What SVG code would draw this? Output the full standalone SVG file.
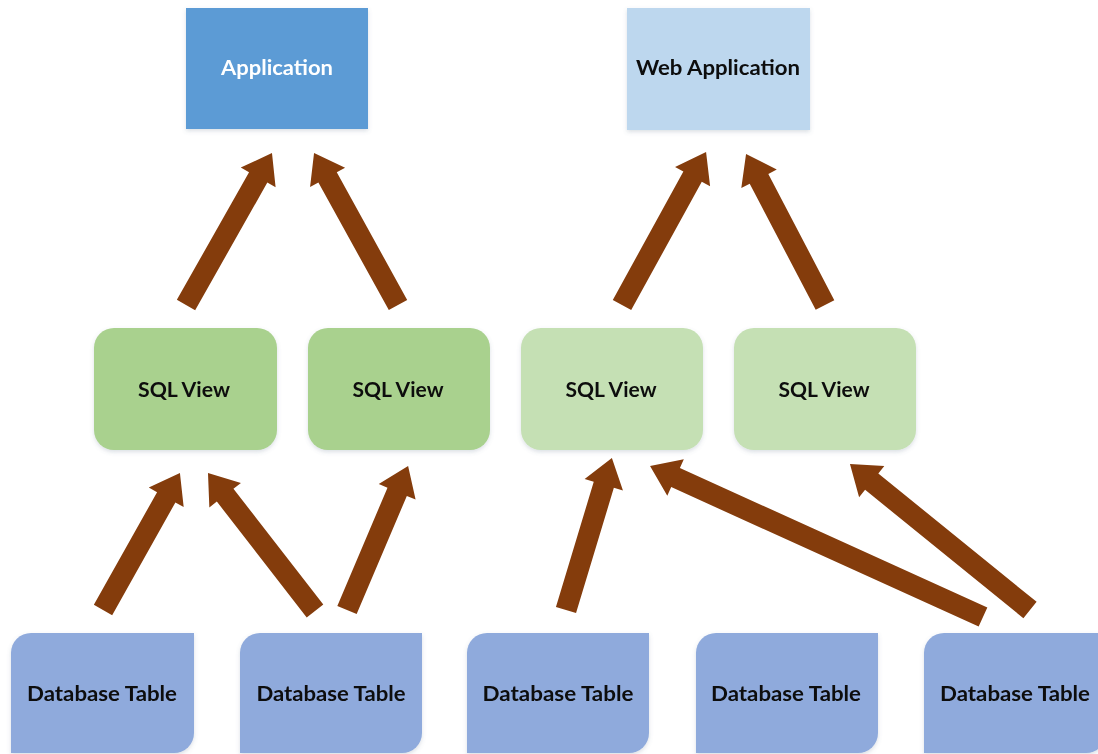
<svg xmlns="http://www.w3.org/2000/svg" width="1098" height="754" viewBox="0 0 1098 754">
  <style>
    .lbl { font-family: "Lato", "Open Sans", "Liberation Sans", sans-serif; font-weight: bold; font-size: 21px; text-anchor: middle; fill: #0d0d0d; }
    .lbl.light { fill: #ffffff; }
    .app { fill: #5b9bd5; }
    .webapp { fill: #bdd7ee; }
    .view-a { fill: #a9d18e; }
    .view-b { fill: #c5e0b4; }
    .table { fill: #8faadc; }
    .arrow { fill: #843c0c; }
    .node { filter: url(#shadow); }
  </style>
  <defs>
    <filter id="shadow" x="-10%" y="-10%" width="120%" height="130%">
      <feDropShadow dx="0" dy="2" stdDeviation="2" flood-color="#5a6f8a" flood-opacity="0.22"/>
    </filter>
  </defs>
  <rect width="1098" height="754" fill="#ffffff"/>

  <!-- top level consumers -->
  <g id="application" class="node">
    <rect class="app" x="186" y="8" width="182" height="121"/>
    <text class="lbl light" x="277" y="75" textLength="112" lengthAdjust="spacingAndGlyphs">Application</text>
  </g>
  <g id="web-application" class="node">
    <rect class="webapp" x="627" y="8" width="183" height="122"/>
    <text class="lbl" x="718" y="75" textLength="164" lengthAdjust="spacingAndGlyphs">Web Application</text>
  </g>

  <!-- views -->
  <g id="view-1" class="node">
    <rect class="view-a" x="94" y="328" width="183" height="122" rx="20"/>
    <text class="lbl" x="184" y="397" textLength="92" lengthAdjust="spacingAndGlyphs">SQL View</text>
  </g>
  <g id="view-2" class="node">
    <rect class="view-a" x="308" y="328" width="182" height="122" rx="20"/>
    <text class="lbl" x="398" y="397" textLength="91" lengthAdjust="spacingAndGlyphs">SQL View</text>
  </g>
  <g id="view-3" class="node">
    <rect class="view-b" x="521" y="328" width="182" height="122" rx="20"/>
    <text class="lbl" x="611" y="397" textLength="91" lengthAdjust="spacingAndGlyphs">SQL View</text>
  </g>
  <g id="view-4" class="node">
    <rect class="view-b" x="734" y="328" width="182" height="122" rx="20"/>
    <text class="lbl" x="824" y="397" textLength="91" lengthAdjust="spacingAndGlyphs">SQL View</text>
  </g>

  <!-- tables: rounded top-left and bottom-right corners -->
  <g id="table-1" class="node">
    <path class="table" d="M31,633 H194 V733 A20,20 0 0 1 174,753 H11 V653 A20,20 0 0 1 31,633 Z"/>
    <text class="lbl" x="102" y="701" textLength="150" lengthAdjust="spacingAndGlyphs">Database Table</text>
  </g>
  <g id="table-2" class="node">
    <path class="table" d="M260,633 H422 V733 A20,20 0 0 1 402,753 H240 V653 A20,20 0 0 1 260,633 Z"/>
    <text class="lbl" x="331" y="701" textLength="149" lengthAdjust="spacingAndGlyphs">Database Table</text>
  </g>
  <g id="table-3" class="node">
    <path class="table" d="M487,633 H649 V733 A20,20 0 0 1 629,753 H467 V653 A20,20 0 0 1 487,633 Z"/>
    <text class="lbl" x="558" y="701" textLength="151" lengthAdjust="spacingAndGlyphs">Database Table</text>
  </g>
  <g id="table-4" class="node">
    <path class="table" d="M716,633 H878 V733 A20,20 0 0 1 858,753 H696 V653 A20,20 0 0 1 716,633 Z"/>
    <text class="lbl" x="786" y="701" textLength="150" lengthAdjust="spacingAndGlyphs">Database Table</text>
  </g>
  <g id="table-5" class="node">
    <path class="table" d="M944,633 H1106 V733 A20,20 0 0 1 1086,753 H924 V653 A20,20 0 0 1 944,633 Z"/>
    <text class="lbl" x="1015" y="701" textLength="150" lengthAdjust="spacingAndGlyphs">Database Table</text>
  </g>

  <!-- block arrows: drawn along +x from the tail, then placed and rotated -->
  <g id="connectors" class="arrow">
    <polygon transform="translate(186,305) rotate(-60.5)" points="0,-10.5 146.6,-10.5 146.6,-20 174.6,0 146.6,20 146.6,10.5 0,10.5"/>
    <polygon transform="translate(398,305) rotate(-118.9)" points="0,-10.5 145.7,-10.5 145.7,-20 173.7,0 145.7,20 145.7,10.5 0,10.5"/>
    <polygon transform="translate(622,305) rotate(-61.2)" points="0,-10.5 146.5,-10.5 146.5,-20 174.5,0 146.5,20 146.5,10.5 0,10.5"/>
    <polygon transform="translate(825,305) rotate(-117.6)" points="0,-10.5 142.4,-10.5 142.4,-20 170.4,0 142.4,20 142.4,10.5 0,10.5"/>
    <polygon transform="translate(103,610) rotate(-60.7)" points="0,-10.5 129.2,-10.5 129.2,-20 157.2,0 129.2,20 129.2,10.5 0,10.5"/>
    <polygon transform="translate(315,611) rotate(-127.8)" points="0,-10.5 146.6,-10.5 146.6,-20 174.6,0 146.6,20 146.6,10.5 0,10.5"/>
    <polygon transform="translate(347,610) rotate(-67)" points="0,-10.5 128.4,-10.5 128.4,-20 156.4,0 128.4,20 128.4,10.5 0,10.5"/>
    <polygon transform="translate(566,610) rotate(-73.2)" points="0,-10.5 130.8,-10.5 130.8,-20 158.8,0 130.8,20 130.8,10.5 0,10.5"/>
    <polygon transform="translate(983,617) rotate(-155.6)" points="0,-10.5 337.6,-10.5 337.6,-20 365.6,0 337.6,20 337.6,10.5 0,10.5"/>
    <polygon transform="translate(1030,610) rotate(-140.96)" points="0,-10.5 203.8,-10.5 203.8,-20 231.8,0 203.8,20 203.8,10.5 0,10.5"/>
  </g>
</svg>
